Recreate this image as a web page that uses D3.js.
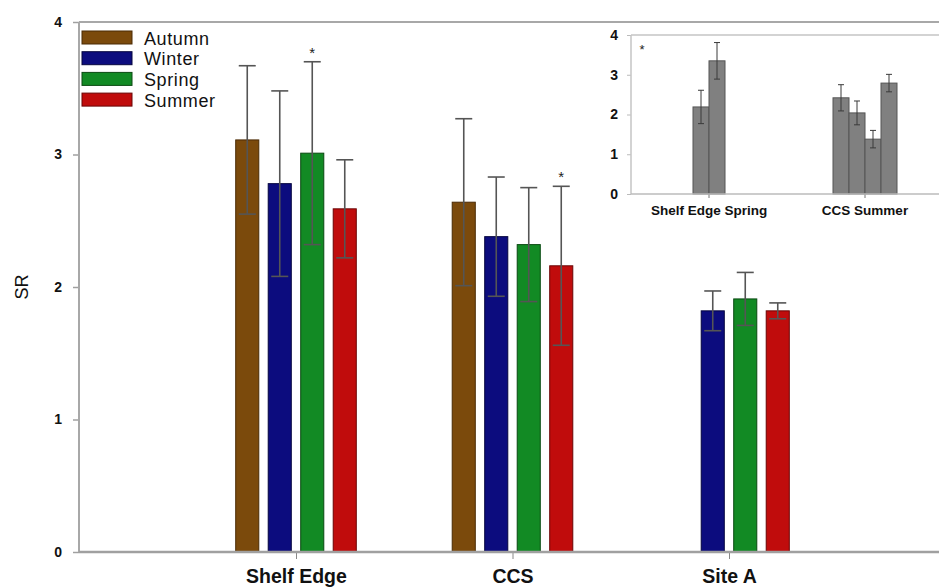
<!DOCTYPE html>
<html>
<head>
<meta charset="utf-8">
<script src="https://cdn.jsdelivr.net/npm/d3@7"></script>
<style>
  html, body { margin: 0; padding: 0; background: #fff; }
  svg { display: block; font-family: "Liberation Sans", Arial, sans-serif; }
</style>
</head>
<body>
<div id="chart"></div>
<script>
    // Main chart data: mean SR per site, one array per season (null = no sample)
    const sites = ['Shelf Edge', 'CCS', 'Site A'];
    const seasons = ['Autumn', 'Winter', 'Spring', 'Summer'];
    const seasonColors = ['#7b4a0c', '#0c0c7e', '#128a24', '#c00c0c'];
    const seasonStroke = ['#4a2a05', '#05053f', '#0a4a12', '#6a0505'];

    const autumnSR = [3.11, 2.64, null];
    const winterSR = [2.78, 2.38, 1.82];
    const springSR = [3.01, 2.32, 1.91];
    const summerSR = [2.59, 2.16, 1.82];

    const autumnErr = [0.56, 0.63, null];
    const winterErr = [0.70, 0.45, 0.15];
    const springErr = [0.69, 0.43, 0.20];
    const summerErr = [0.37, 0.60, 0.06];

    const yTicks = [0, 1, 2, 3, 4];
    const starred = [['Shelf Edge', 'Spring'], ['CCS', 'Summer']];

    // Inset data
    const insetGroups = ['Shelf Edge Spring', 'CCS Summer'];
    const insetSlots = ['a', 'b', 'c', 'd'];
    const insetSR = [[null, 2.19, 3.35, null], [2.42, 2.04, 1.38, 2.79]];
    const insetErr = [[null, 0.42, 0.46, null], [0.33, 0.30, 0.22, 0.22]];

    const W = 939, H = 588;

    function init( selector ) {

        const svg = d3.select( selector ).append('svg')
            .attr('width', W)
            .attr('height', H);

        const means = [autumnSR, winterSR, springSR, summerSR];
        const errs = [autumnErr, winterErr, springErr, summerErr];

        const rows = [];
        seasons.forEach((s, i) => {
            sites.forEach((site, j) => {
                if (means[i][j] != null) {
                    rows.push({ site : site, season : s, idx : i, v : means[i][j], e : errs[i][j] });
                }
            });
        });

        const x = d3.scalePoint().domain(sites).range([296, 729]);
        const slot = d3.scaleBand().domain(seasons).range([-65, 65])
            .paddingInner(0.29).paddingOuter(0.145);
        const y = d3.scaleLinear().domain([0, 4]).range([552, 22]);

        // frame lines
        svg.append('line').attr('x1', 79).attr('x2', W).attr('y1', y(4)).attr('y2', y(4))
            .attr('stroke', '#a8a8a8').attr('stroke-width', 2);

        // y axis
        const yAxis = svg.append('g').attr('transform', 'translate(79,0)')
            .call(d3.axisLeft(y).tickValues(yTicks).tickFormat(d3.format('d')).tickSize(6).tickPadding(11));
        yAxis.select('.domain').remove();
        yAxis.selectAll('line').attr('stroke', '#a0a0a0').attr('stroke-width', 1.5);
        yAxis.selectAll('text').attr('font-size', 14).attr('font-weight', 'bold')
            .attr('fill', '#111').attr('font-family', '"Liberation Sans", Arial, sans-serif');
        svg.append('line').attr('x1', 79).attr('x2', 79).attr('y1', y(4)).attr('y2', y(0))
            .attr('stroke', '#a8a8a8').attr('stroke-width', 2);

        svg.append('text')
            .attr('transform', 'translate(28,' + y(2) + ') rotate(-90)')
            .attr('text-anchor', 'middle')
            .attr('font-size', 18)
            .attr('fill', '#111')
            .text('SR');

        // bars
        svg.append('g').selectAll('rect').data(rows).join('rect')
            .attr('x', d => x(d.site) + slot(d.season))
            .attr('width', slot.bandwidth())
            .attr('y', d => y(d.v))
            .attr('height', d => y(0) - y(d.v))
            .attr('fill', d => seasonColors[d.idx])
            .attr('stroke', d => seasonStroke[d.idx])
            .attr('stroke-width', 1);

        // error bars
        const eb = svg.append('g').selectAll('g').data(rows).join('g')
            .attr('transform', d => 'translate(' + (x(d.site) + slot(d.season) + slot.bandwidth() / 2) + ',0)');
        eb.append('line')
            .attr('y1', d => y(d.v + d.e)).attr('y2', d => y(d.v - d.e))
            .attr('stroke', '#555').attr('stroke-width', 1.6);
        eb.selectAll('.cap').data(d => [d.v + d.e, d.v - d.e]).join('line')
            .attr('class', 'cap')
            .attr('x1', -8.5).attr('x2', 8.5)
            .attr('y1', v => y(v)).attr('y2', v => y(v))
            .attr('stroke', '#555').attr('stroke-width', 1.6);

        // significance stars
        svg.append('g').selectAll('text').data(starred).join('text')
            .attr('x', d => x(d[0]) + slot(d[1]) + slot.bandwidth() / 2)
            .attr('y', d => {
                const r = rows.find(o => o.site === d[0] && o.season === d[1]);
                return y(r.v + r.e) - 4;
            })
            .attr('text-anchor', 'middle')
            .attr('font-size', 15)
            .attr('fill', '#222')
            .text('*');

        // x axis
        const xAxis = svg.append('g').attr('transform', 'translate(0,' + y(0) + ')')
            .call(d3.axisBottom(x).tickSize(7).tickPadding(10));
        xAxis.select('.domain').remove();
        xAxis.selectAll('line').attr('stroke', '#888').attr('stroke-width', 1);
        xAxis.selectAll('text').attr('font-size', 19.5).attr('font-weight', 'bold')
            .attr('fill', '#111').attr('font-family', '"Liberation Sans", Arial, sans-serif');
        svg.append('line').attr('x1', 79).attr('x2', W).attr('y1', y(0)).attr('y2', y(0))
            .attr('stroke', '#a0a0a0').attr('stroke-width', 2.5);

        // legend
        const legend = svg.append('g').selectAll('g').data(seasons).join('g')
            .attr('transform', (d, i) => 'translate(82,' + (31 + i * 20.7) + ')');
        legend.append('rect')
            .attr('width', 50).attr('height', 13)
            .attr('fill', (d, i) => seasonColors[i])
            .attr('stroke', (d, i) => seasonStroke[i]);
        legend.append('text')
            .attr('x', 62).attr('y', 13.5)
            .attr('font-size', 18)
            .attr('letter-spacing', 0.6)
            .attr('fill', '#111')
            .text(d => d);

        drawInset(svg);
    }

    function drawInset( svg ) {

        const g = svg.append('g');

        const ix = d3.scaleBand().domain(insetGroups).range([631, 943]);
        const islot = d3.scaleBand().domain(insetSlots).range([-32, 32]);
        const iy = d3.scaleLinear().domain([0, 4]).range([194, 35]);

        g.append('rect').attr('x', 598).attr('y', 26).attr('width', W - 598).attr('height', 202)
            .attr('fill', '#fff');

        g.append('line').attr('x1', 631).attr('x2', W).attr('y1', iy(4)).attr('y2', iy(4))
            .attr('stroke', '#c4c4c4').attr('stroke-width', 1.5);

        const rows = [];
        insetGroups.forEach((grp, i) => {
            insetSlots.forEach((s, j) => {
                if (insetSR[i][j] != null) {
                    rows.push({ grp : grp, s : s, v : insetSR[i][j], e : insetErr[i][j] });
                }
            });
        });

        g.append('g').selectAll('rect').data(rows).join('rect')
            .attr('x', d => ix(d.grp) + ix.bandwidth() / 2 + islot(d.s))
            .attr('width', islot.bandwidth())
            .attr('y', d => iy(d.v))
            .attr('height', d => iy(0) - iy(d.v))
            .attr('fill', '#808080')
            .attr('stroke', '#555')
            .attr('stroke-width', 1);

        const eb = g.append('g').selectAll('g').data(rows).join('g')
            .attr('transform', d => 'translate(' + (ix(d.grp) + ix.bandwidth() / 2 + islot(d.s) + islot.bandwidth() / 2) + ',0)');
        eb.append('line')
            .attr('y1', d => iy(d.v + d.e)).attr('y2', d => iy(d.v - d.e))
            .attr('stroke', '#3a3a3a').attr('stroke-width', 1);
        eb.selectAll('.cap').data(d => [d.v + d.e, d.v - d.e]).join('line')
            .attr('class', 'cap')
            .attr('x1', -3).attr('x2', 3)
            .attr('y1', v => iy(v)).attr('y2', v => iy(v))
            .attr('stroke', '#3a3a3a').attr('stroke-width', 1);

        const yAxis = g.append('g').attr('transform', 'translate(631,0)')
            .call(d3.axisLeft(iy).tickValues(yTicks).tickFormat(d3.format('d')).tickSize(4).tickPadding(9));
        yAxis.select('.domain').remove();
        yAxis.selectAll('line').attr('stroke', '#bbb');
        yAxis.selectAll('text').attr('font-size', 14).attr('font-weight', 'bold')
            .attr('fill', '#111').attr('font-family', '"Liberation Sans", Arial, sans-serif');
        g.append('line').attr('x1', 631).attr('x2', 631).attr('y1', iy(4)).attr('y2', iy(0))
            .attr('stroke', '#c4c4c4').attr('stroke-width', 1.5);

        const xAxis = g.append('g').attr('transform', 'translate(0,' + iy(0) + ')')
            .call(d3.axisBottom(ix).tickSize(4).tickPadding(7));
        xAxis.select('.domain').remove();
        xAxis.selectAll('line').attr('stroke', '#777');
        xAxis.selectAll('text').attr('font-size', 13.5).attr('font-weight', 'bold')
            .attr('fill', '#111').attr('font-family', '"Liberation Sans", Arial, sans-serif');
        g.append('line').attr('x1', 631).attr('x2', W).attr('y1', iy(0)).attr('y2', iy(0))
            .attr('stroke', '#bbb').attr('stroke-width', 1.5);

        g.append('text').attr('x', 642).attr('y', 54)
            .attr('text-anchor', 'middle').attr('font-size', 13).attr('fill', '#222')
            .text('*');
    }

    init('#chart');
</script>
</body>
</html>
